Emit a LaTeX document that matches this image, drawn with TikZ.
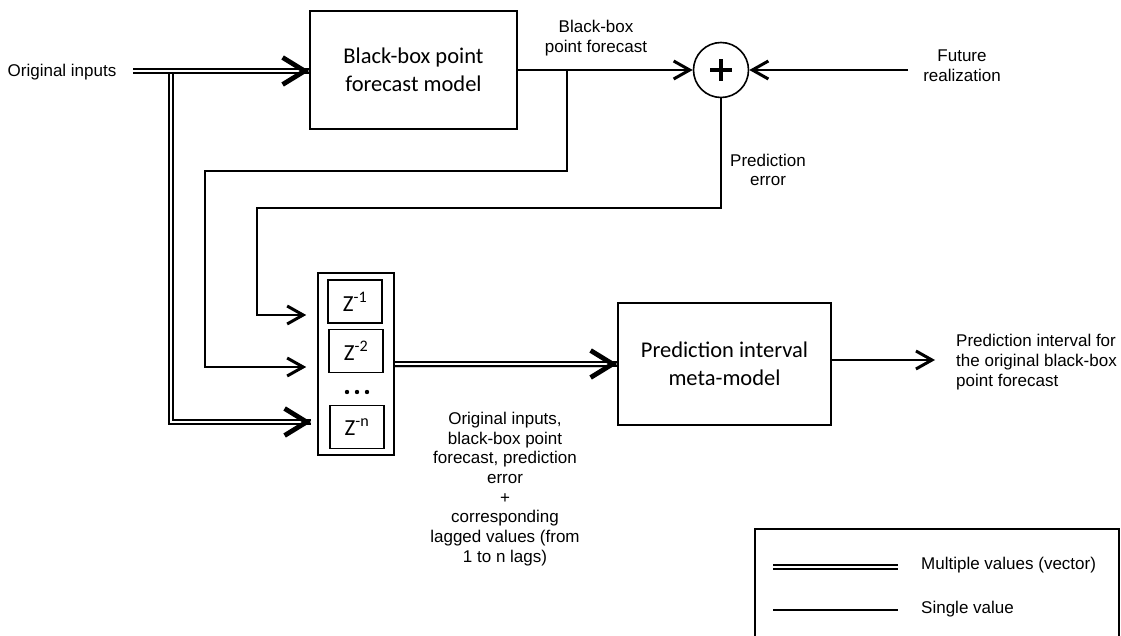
\documentclass[tikz,border=0pt]{standalone}
\usepackage{fontspec}
\setmainfont{Liberation Sans}
\newfontfamily\calfont{Carlito}
\usetikzlibrary{arrows.meta,calc}
\begin{document}
\begin{tikzpicture}[x=1pt,y=-1pt,
  lbl/.style={font=\fontsize{17}{19.7}\selectfont, align=center, inner sep=0pt},
  boxtxt/.style={draw, line width=1.6pt, font=\calfont\fontsize{22.5}{28}\selectfont, align=center, inner sep=0pt},
  zbox/.style={draw, line width=1.6pt, minimum width=54pt, minimum height=43pt, inner sep=0pt, font=\calfont\fontsize{23}{25}\selectfont},
  sline/.style={line width=1.6pt},
  stip/.style={-{Straight Barb[length=16pt,width=18pt,line width=3pt]}},
  dline/.style={double, double distance=2.2pt, line width=1.5pt},
  dtip/.style={-{Straight Barb[length=22pt,width=27pt,line width=4.8pt]}, line width=1pt},
]
\useasboundingbox (0,0) rectangle (1121,636);
% nodes
\node[lbl] (orig) at (62,72) {Original inputs};
\coordinate (in0) at (133,71);
\coordinate (jn) at (171,71);
\node[boxtxt, minimum width=207pt, minimum height=118pt] (bb) at (413.5,70) {Black-box point\\forecast model};
\node[draw, circle, minimum size=55pt, inner sep=0pt, line width=1.6pt] (sum) at (721,70) {};
\node[lbl] (bbl) at (596,38) {Black-box\\point forecast};
\node[lbl] (futl) at (962,66) {Future\\realization};
\coordinate (fut0) at (908,70);
\node[lbl] (perl) at (768,170) {Prediction\\error};
\coordinate (br) at (567,70);
\coordinate (c2) at (205,171);
\coordinate (c1) at (257,208);
% z stack
\node[draw, line width=1.6pt, minimum width=76pt, minimum height=182pt, inner sep=0pt] (zs) at (356,364) {};
\node[zbox] (z1) at (355,301.5) {Z\textsuperscript{-1}};
\node[zbox] (z2) at (356,351) {Z\textsuperscript{-2}};
\node[zbox] (zn) at (357,427) {Z\textsuperscript{-n}};
\coordinate (zin1) at ($(zs.west)+(-11,-49)$);
\coordinate (zin2) at ($(zs.west)+(-11,3)$);
\coordinate (zinn) at ($(zs.west)+(-6,58)$);
% PI box
\node[boxtxt, minimum width=213pt, minimum height=122pt] (pi) at (724.5,364) {Prediction interval\\meta-model};
\coordinate (outtip) at (935,360);
\node[lbl, align=left, anchor=west] (outl) at (956,362) {Prediction interval for\\the original black-box\\point forecast};
\node[lbl] (cap) at (505,489) {Original inputs,\\black-box point\\forecast, prediction\\error\\+\\corresponding\\lagged values (from\\1 to n lags)};
% legend
\node[draw, sline, minimum width=364pt, minimum height=130pt, anchor=north west, inner sep=0pt] (leg) at (754,528) {};
\coordinate (l1a) at (773,567);
\coordinate (l1b) at (898,567);
\coordinate (l2a) at (773,610);
\coordinate (l2b) at (898,610);
\node[lbl, anchor=west] (legt1) at (921,565) {Multiple values (vector)};
\node[lbl, anchor=west] (legt2) at (921,609) {Single value};
% plus sign
\draw[line width=3.2pt] ([xshift=-11pt]sum.center) -- ([xshift=11pt]sum.center);
\draw[line width=3.2pt] ([yshift=-11pt]sum.center) -- ([yshift=11pt]sum.center);
% dots
\fill (347,392) circle (2.2pt);
\fill (357,392) circle (2.2pt);
\fill (367,392) circle (2.2pt);
% connectors
\draw[dline] (jn) |- (zinn);
\draw[dtip] ($(zinn)+(-2,0)$) -- (zinn);
\draw[dline] (in0) -- (bb.west |- in0);
\draw[dtip] ($(bb.west |- in0)+(-2,0)$) -- (bb.west |- in0);
\draw[sline,stip] (bb.east |- br) -- (sum.west);
\draw[sline,stip] (fut0) -- (sum.east);
\draw[sline,stip] (br) |- (c2) |- (zin2);
\draw[sline,stip] (sum.south) |- (c1) |- (zin1);
\draw[line width=5pt, black!25, opacity=0.8] ([yshift=-1.5pt]zs.east) -- ([yshift=-1.5pt,xshift=-10pt]pi.west);
\draw[dline] (zs.east) -- (pi.west);
\draw[dtip] ($(pi.west)+(-2,0)$) -- (pi.west);
\draw[sline,stip] (pi.east |- outtip) -- (outtip);
\draw[dline] (l1a) -- (l1b);
\draw[sline] (l2a) -- (l2b);
\end{tikzpicture}
\end{document}
